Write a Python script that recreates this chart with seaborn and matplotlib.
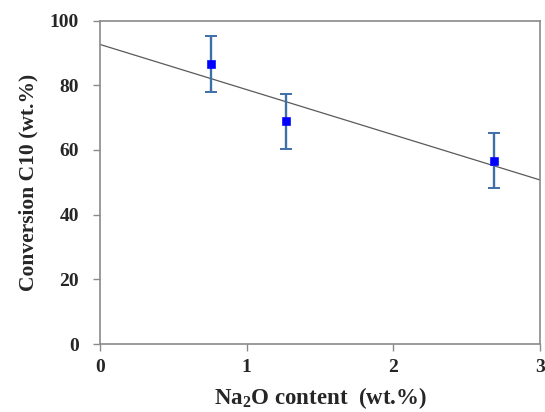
import matplotlib
matplotlib.use("Agg")
import matplotlib.pyplot as plt
import seaborn as sns
import numpy as np
import pandas as pd

na2o = [0.757, 1.266, 2.686]
conversion = [86.5, 68.9, 56.7]
err = [8.7, 8.5, 8.5]
xticks = [0, 1, 2, 3]
yticks = [0, 20, 40, 60, 80, 100]

sns.set_style("white")
plt.rcParams['font.family'] = ['Liberation Serif', 'DejaVu Serif']
plt.rcParams['mathtext.fontset'] = 'custom'
plt.rcParams['mathtext.rm'] = 'Liberation Serif:bold'
plt.rcParams['mathtext.bf'] = 'Liberation Serif:bold'

df = pd.DataFrame({"x": na2o, "y": conversion})

fig = plt.figure(figsize=(5.45, 4.12), dpi=100)
ax = fig.add_axes([0.1835, 0.1650, 0.8075, 0.7850])
ax.set_xlim(0, 3)
ax.set_ylim(0, 100)

sns.regplot(data=df, x="x", y="y", ax=ax, scatter=False, ci=None, truncate=False,
            line_kws=dict(color="#5a5a5a", lw=0.9))
ax.errorbar(na2o, conversion, yerr=err, fmt="none", ecolor="#3e6fa8", elinewidth=1.7,
            capsize=4, capthick=1.4, zorder=3)
sns.scatterplot(data=df, x="x", y="y", ax=ax, marker="s", s=32, color="#0000ff",
                edgecolor="#0000ff", zorder=4)

ax.set_xlim(0, 3)
ax.set_ylim(0, 100)
ax.set_xticks(xticks)
ax.set_yticks(yticks)
ax.set_xticklabels([str(t) for t in xticks], fontsize=14, fontweight="bold")
ax.set_yticklabels([str(t) for t in yticks], fontsize=14, fontweight="bold")
ax.set_xlabel(r"Na$_\mathbf{2}$O content  (wt.%)", fontsize=16.5, fontweight="bold", labelpad=6)
ax.set_ylabel("Conversion C10 (wt.%)", fontsize=15.5, fontweight="bold", labelpad=8)

for s in ax.spines.values():
    s.set_color("#8a8a8a")
    s.set_linewidth(1.2)
ax.tick_params(axis="y", direction="out", length=5, width=1, color="#8a8a8a", pad=10, left=True)
ax.tick_params(axis="x", direction="out", length=5, width=1, color="#8a8a8a", pad=6, bottom=True)

fig.savefig("out.png", dpi=100)
